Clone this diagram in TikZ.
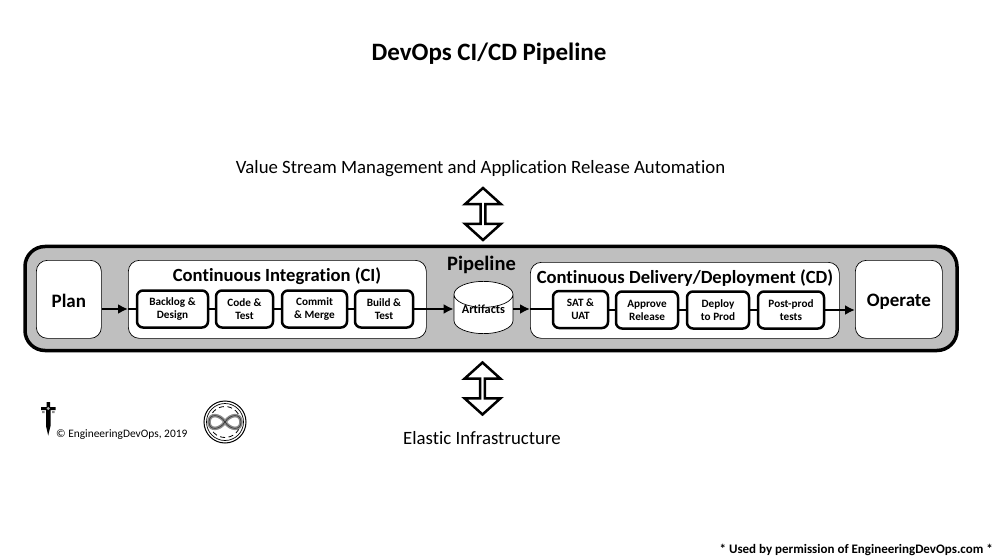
\documentclass[tikz,border=0pt]{standalone}
\usepackage{fontspec}
\setmainfont[Ligatures=NoCommon]{Carlito}
\usetikzlibrary{positioning,shapes.geometric,shapes.arrows,arrows.meta}
\tikzset{
  panel node/.style={draw, rounded corners=11pt, fill=white, line width=0.7pt, anchor=north west, inner sep=0pt},
  step node/.style={draw, rounded corners=6pt, fill=white, line width=2.5pt, align=center, minimum height=37pt, inner sep=0pt, font=\fontsize{11.2}{13}\selectfont\bfseries, execute at begin node={\rule{0pt}{10.5pt}}},
  end node/.style={panel node, minimum height=78pt, font=\fontsize{19}{23}\selectfont\bfseries, execute at begin node={\rule{0pt}{16.5pt}}},
  head node/.style={font=\fontsize{18.6}{22}\selectfont\bfseries},
  link/.style={line width=2.5pt},
  flow/.style={line width=2.5pt, -{Latex[length=10pt,width=10pt]}},
  both way/.style={double arrow, draw, line width=2.5pt, fill=white, rotate=90, minimum height=52pt, minimum width=36pt, inner sep=0pt,
    double arrow head extend=8pt, double arrow tip angle=96},
}

\begin{document}
\begin{tikzpicture}[x=1pt, y=-1pt]
        \useasboundingbox (0,0) rectangle (997,559);
        % Background
        \node[draw, line width=3.5pt, rounded corners=20pt, fill=black!25, minimum width=932pt, minimum height=104pt, inner sep=0pt] (pipe) at (491,298.5) {};
        % Texts
        \node[font=\fontsize{25}{30}\selectfont\bfseries] (title) at (489,54) {DevOps CI/CD Pipeline};
        \node[font=\fontsize{18.8}{23}\selectfont] (vsm) at (480.5,168.5) {Value Stream Management and Application Release Automation};
        \node[font=\fontsize{18.8}{23}\selectfont] (infra) at (482,438.5) {Elastic Infrastructure};
        \node[font=\fontsize{20.5}{24}\selectfont\bfseries] at (481.5,264.5) (pipelabel) {Pipeline};
        \node[font=\fontsize{11.4}{13}\selectfont, anchor=west, inner sep=0pt] (copy) at (56,434.5) {© EngineeringDevOps, 2019};
        \node[font=\fontsize{13}{16}\selectfont\bfseries, anchor=east, inner sep=0pt] (perm) at (993,549.5) {* Used by permission of EngineeringDevOps.com *};
        % Panels
        \node[end node, minimum width=65pt] (plan) at (36,260) {Plan};
        \node[panel node, minimum width=298pt, minimum height=78pt] (ci) at (128,260) {};
        \node[panel node, minimum width=309pt, minimum height=76pt] (cd) at (530,262) {};
        \node[end node, minimum width=87pt] (operate) at (855,260) {Operate};
        \node[head node] at (277,276) (cilabel) {Continuous Integration (CI)};
        \node[head node] at (685,278) (cdlabel) {Continuous Delivery/Deployment (CD)};
        % Steps
        \node[step node, minimum width=71pt] (backlog) at (172.5,309) {Backlog \&\\Design};
        \node[step node, minimum width=57pt] (code) at (244.5,309) {Code \&\\Test};
        \node[step node, minimum width=65pt] (commit) at (314.5,309) {Commit\\\& Merge};
        \node[step node, minimum width=58pt] (build) at (384,309) {Build \&\\Test};
        \node[draw, fill=white, line width=0.7pt, cylinder, shape border rotate=90, aspect=0.6, minimum width=59pt, minimum height=46pt, inner sep=0pt, text height=6pt, text depth=7pt, anchor=shape center, font=\fontsize{12.3}{15}\selectfont\bfseries] (store) at (483.5,307.5) {Artifacts};
        \node[step node, minimum width=55pt] (sat) at (580.5,309.5) {SAT \&\\UAT};
        \node[step node, minimum width=62pt] (approve) at (647,310) {Approve\\Release};
        \node[step node, minimum width=62pt] (deploy) at (718,310) {Deploy\\to Prod};
        \node[step node, minimum width=66pt] (post) at (791,310) {Post-prod\\tests};
        % Arrows
        \node[both way] (top) at (483,214) {};
        \node[both way] (bottom) at (482.5,388.5) {};
        % Paths
        \draw[flow] (plan.east |- backlog) -- (ci.west |- backlog);
        \draw[link] (ci.west |- backlog) -- (backlog);
        \draw[link] (backlog) -- (code);
        \draw[link] (code) -- (commit);
        \draw[link] (commit) -- (build);
        \draw[flow] (build) -- (store.west |- build);
        \draw[flow] (store.east |- build) -- (cd.west |- build);
        \draw[link] (cd.west |- build) -- (sat.west |- build);
        \draw[link] (sat.east |- approve) -- (approve);
        \draw[link] (approve) -- (deploy);
        \draw[link] (deploy) -- (post);
        \draw[flow] (post) -- (operate.west |- post);
        % Dagger
        \fill (46.5,402) rectangle (50,407) (41,407) rectangle (55.5,410) (46,410) -- (50.5,410) -- (50.5,426) -- (48.2,435.5) -- (46,426) -- cycle;
        \fill[black!45] (42,411) rectangle (44.5,413) (52,411) rectangle (54.5,413);
        \fill[black!30] (48.2,408.5) circle (1.6pt);
        % Seal
        \draw[line width=1pt] (225,422) circle (21pt);
        \draw[line width=0.7pt] (225,422) circle (18.5pt);
        \draw[line width=0.8pt, dash pattern=on 5pt off 3.5pt] (225,422) circle (15.5pt);
        \draw[line width=3.5pt, black!45] (225,422) .. controls (230,414) and (241,413) .. (241,422) .. controls (241,431) and (230,430) .. (225,422) .. controls (220,414) and (209,413) .. (209,422) .. controls (209,431) and (220,430) .. (225,422) -- cycle;
        \draw[line width=0.6pt, black!80] (225,422) .. controls (230,414) and (241,413) .. (241,422) .. controls (241,431) and (230,430) .. (225,422) .. controls (220,414) and (209,413) .. (209,422) .. controls (209,431) and (220,430) .. (225,422) -- cycle;
    \end{tikzpicture}
\end{document}
